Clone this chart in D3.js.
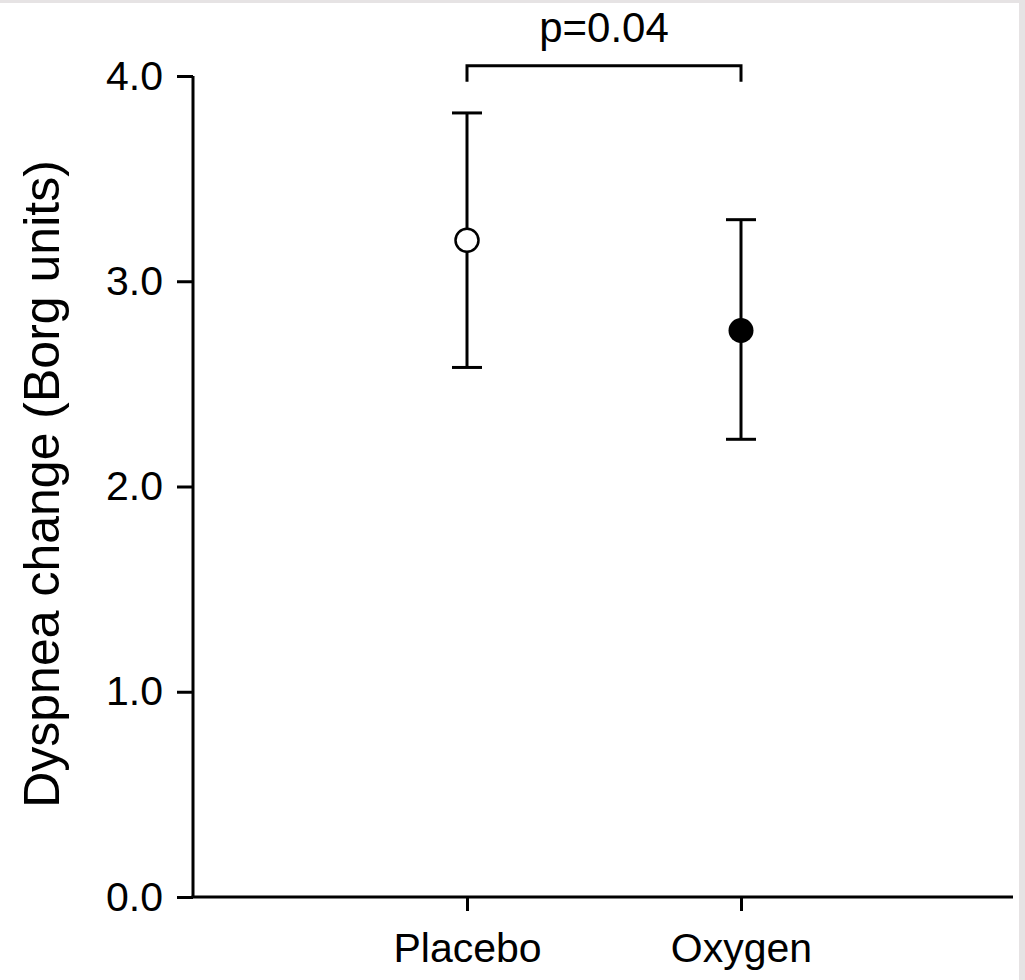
<!DOCTYPE html>
<html>
<head>
<meta charset="utf-8">
<script src="https://cdn.jsdelivr.net/npm/d3@7"></script>
<style>
  html, body { margin: 0; padding: 0; background: #ffffff; }
  svg { display: block; }
  text { font-family: "Liberation Sans", Arial, Helvetica, sans-serif; fill: #000; }
</style>
</head>
<body>
<svg id="chart" width="1025" height="980"></svg>
<script>
// Dyspnea change by treatment group: mean with error bars
const groups = ["Placebo", "Oxygen"];
const means = [3.2, 2.76];
const upper = [3.82, 3.30];
const lower = [2.58, 2.23];
const filled = [false, true];
const yTicks = [0, 1, 2, 3, 4];
const pLabel = "p=0.04";
const bracketLevel = 4.05;
const yTitle = "Dyspnea change (Borg units)";

const svg = d3.select("#chart");
const W = 1025, H = 980;

// frame bands along the top and right edges
svg.append("rect").attr("x", 0).attr("y", 0).attr("width", W).attr("height", H).attr("fill", "#ffffff");
svg.append("rect").attr("x", 0).attr("y", 0).attr("width", W).attr("height", 3).attr("fill", "#e6e3e4");
svg.append("rect").attr("x", 1019).attr("y", 0).attr("width", 6).attr("height", H).attr("fill", "#e6e3e4");

const x0 = 193, x1 = 1013, yTop = 76, yBot = 897;

const x = d3.scalePoint().domain(groups).range([x0, x1 + 2]).padding(1);
const y = d3.scaleLinear().domain([0, 4]).range([yBot, yTop]);

// y axis
const yAxis = svg.append("g")
  .attr("transform", `translate(${x0},0)`)
  .call(d3.axisLeft(y).tickValues(yTicks).tickFormat(d3.format(".1f")).tickSize(16).tickPadding(14));
yAxis.select(".domain").attr("stroke", "#000").attr("stroke-width", 3).attr("d", `M0,${yTop}V${yBot}`);
yAxis.selectAll(".tick line").attr("stroke", "#000").attr("stroke-width", 3);
yAxis.selectAll(".tick text").attr("font-size", 41).attr("font-family", "Liberation Sans, Arial, sans-serif").attr("fill", "#000");

// x axis
const xAxis = svg.append("g")
  .attr("transform", `translate(0,${yBot})`)
  .call(d3.axisBottom(x).tickSize(14).tickPadding(22));
xAxis.select(".domain").attr("stroke", "#000").attr("stroke-width", 3).attr("d", `M${x0 - 1.5},0H${x1}`);
xAxis.selectAll(".tick line").attr("stroke", "#000").attr("stroke-width", 3);
xAxis.selectAll(".tick text").attr("font-size", 41).attr("font-family", "Liberation Sans, Arial, sans-serif").attr("fill", "#000");

// y axis title
svg.append("text")
  .attr("transform", `translate(59,484) rotate(-90)`)
  .attr("text-anchor", "middle")
  .attr("font-size", 50)
  .text(yTitle);

// error bars and markers
const data = groups.map((g, i) => ({ g, m: means[i], hi: upper[i], lo: lower[i], f: filled[i] }));
const capHalf = 15;
const bars = svg.append("g").selectAll("g").data(data).join("g");
bars.append("line")
  .attr("x1", d => x(d.g)).attr("x2", d => x(d.g))
  .attr("y1", d => y(d.hi)).attr("y2", d => y(d.lo))
  .attr("stroke", "#000").attr("stroke-width", 3);
bars.append("line")
  .attr("x1", d => x(d.g) - capHalf).attr("x2", d => x(d.g) + capHalf)
  .attr("y1", d => y(d.hi)).attr("y2", d => y(d.hi))
  .attr("stroke", "#000").attr("stroke-width", 3);
bars.append("line")
  .attr("x1", d => x(d.g) - capHalf).attr("x2", d => x(d.g) + capHalf)
  .attr("y1", d => y(d.lo)).attr("y2", d => y(d.lo))
  .attr("stroke", "#000").attr("stroke-width", 3);
bars.append("circle")
  .attr("cx", d => x(d.g)).attr("cy", d => y(d.m))
  .attr("r", d => d.f ? 12.5 : 11.5)
  .attr("fill", d => d.f ? "#000" : "#fff")
  .attr("stroke", "#000").attr("stroke-width", d => d.f ? 0 : 2.5);

// significance bracket
const bx1 = x(groups[0]), bx2 = x(groups[1]), by = y(bracketLevel);
svg.append("path")
  .attr("d", `M${bx1},${by + 16}V${by}H${bx2}V${by + 16}`)
  .attr("fill", "none").attr("stroke", "#000").attr("stroke-width", 3);
svg.append("text")
  .attr("x", (bx1 + bx2) / 2)
  .attr("y", 42)
  .attr("text-anchor", "middle")
  .attr("font-size", 42)
  .text(pLabel);
</script>
</body>
</html>
